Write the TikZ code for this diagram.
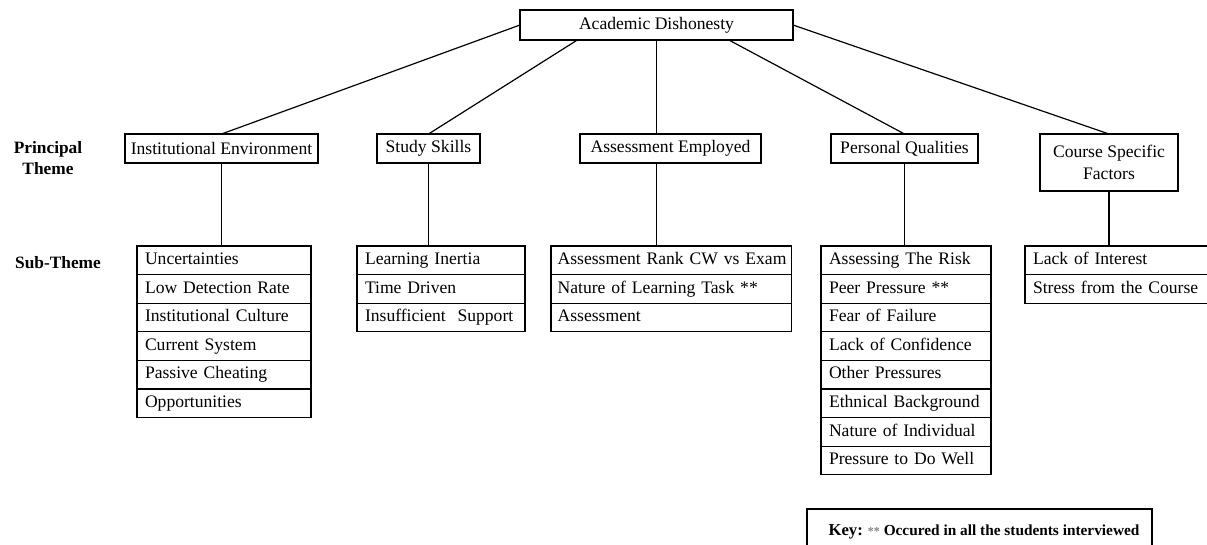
\documentclass[tikz,border=0pt]{standalone}
\usepackage{fontspec}
\setmainfont{Liberation Serif}
\usetikzlibrary{calc}
\begin{document}
\begin{tikzpicture}[x=0.75pt,y=-0.75pt,
  lbl/.style={font=\fontsize{13.2}{15}\selectfont},
  theme/.style={draw, line width=0.9pt, lbl, minimum height=21.75pt, inner sep=0pt, outer sep=0pt, align=center},
  row/.style={draw, line width=0.9pt, lbl, anchor=north west, outer sep=0pt, minimum height=21.45pt, inner ysep=0pt, inner xsep=6pt, text width=#1, text height=9.5pt, text depth=3.2pt, execute at begin node={\hbox\bgroup}, execute at end node={\egroup}},
  link/.style={line width=0.9pt},
  side/.style={font=\bfseries\fontsize{13}{15.75}\selectfont, align=center, inner sep=0pt}]
\useasboundingbox (0,0) rectangle (1207,544);
% top
\node[theme, minimum width=204.75pt, minimum height=22.5pt] (top) at (656.5,25) {Academic Dishonesty};
% principal themes
\node[theme, minimum width=144.75pt] (ie) at (221.5,148.5) {Institutional Environment};
\node[theme, minimum width=77.25pt] (ss) at (428.5,148.5) {Study Skills};
\node[theme, minimum width=135.75pt] (ae) at (670.5,148.5) {Assessment Employed};
\node[theme, minimum width=110.25pt] (pq) at (904.5,148.5) {Personal Qualities};
\node[theme, minimum width=103.5pt, minimum height=42.75pt, font=\fontsize{13.2}{16.5}\selectfont] (csf) at (1109,162.5) {Course Specific\\Factors};
% side labels
\node[side] (pt) at (48,158) {Principal\\Theme};
\node[side] (st) at (58,263) {Sub-Theme};
% sub themes: Institutional Environment
\node[row=118.5pt] (ie1) at (137,246) {Uncertainties};
\node[row=118.5pt] (ie2) at (ie1.south west) {Low Detection Rate};
\node[row=118.5pt] (ie3) at (ie2.south west) {Institutional Culture};
\node[row=118.5pt] (ie4) at (ie3.south west) {Current System};
\node[row=118.5pt] (ie5) at (ie4.south west) {Passive Cheating};
\node[row=118.5pt] (ie6) at (ie5.south west) {Opportunities};
% Study Skills
\node[row=114pt] (ss1) at (357,246) {Learning Inertia};
\node[row=114pt] (ss2) at (ss1.south west) {Time Driven};
\node[row=114pt] (ss3) at (ss2.south west) {Insufficient\ \ Support};
% Assessment Employed
\node[row=170.25pt, inner xsep=5pt] (ae1) at (551,246) {Assessment Rank CW vs Exam};
\node[row=170.25pt, inner xsep=5pt] (ae2) at (ae1.south west) {Nature of Learning Task **};
\node[row=170.25pt, inner xsep=5pt] (ae3) at (ae2.south west) {Assessment};
% Personal Qualities
\node[row=115.5pt] (pq1) at (821,246) {Assessing The Risk};
\node[row=115.5pt] (pq2) at (pq1.south west) {Peer Pressure **};
\node[row=115.5pt] (pq3) at (pq2.south west) {Fear of Failure};
\node[row=115.5pt] (pq4) at (pq3.south west) {Lack of Confidence};
\node[row=115.5pt] (pq5) at (pq4.south west) {Other Pressures};
\node[row=115.5pt] (pq6) at (pq5.south west) {Ethnical Background};
\node[row=115.5pt] (pq7) at (pq6.south west) {Nature of Individual};
\node[row=115.5pt] (pq8) at (pq7.south west) {Pressure to Do Well};
% Course Specific Factors
\node[row=125.25pt] (cs1) at (1025,246) {Lack of Interest};
\node[row=125.25pt] (cs2) at (cs1.south west) {Stress from the Course};
% connectors from the top
\draw[link] (top.west) -- (ie.north);
\draw[link] ($(top.south west)!0.21!(top.south east)$) -- (ss.north);
\draw[link] (top.south) -- (top.south |- ae.north);
\draw[link] ($(top.south west)!0.765!(top.south east)$) -- (pq.north);
\draw[link] (top.east) -- (csf.north);
% connectors to sub-themes
\draw[link] (ie.south) -- (ie.south |- ie1.north);
\draw[link] (ss.south) -- (ss.south |- ss1.north);
\draw[link] (top.south |- ae.south) -- (top.south |- ae1.north);
\draw[link] (pq.south) -- (pq.south |- pq1.north);
\draw[link] (csf.south) -- (csf.south |- cs1.north);
% key
\coordinate (k1) at (807,548);
\coordinate (k2) at (807,509);
\coordinate (k3) at (1152,509);
\coordinate (k4) at (1152,548);
\draw[link] (k1) -- (k2) -- (k3) -- (k4);
\node[font=\bfseries\fontsize{11.5}{13}\selectfont, inner sep=0pt] (key) at (984,532) {{\fontsize{12.5}{13}\selectfont Key:} {\color{gray}\fontsize{9}{10}\selectfont **} Occured in all the students interviewed};
\end{tikzpicture}
\end{document}
